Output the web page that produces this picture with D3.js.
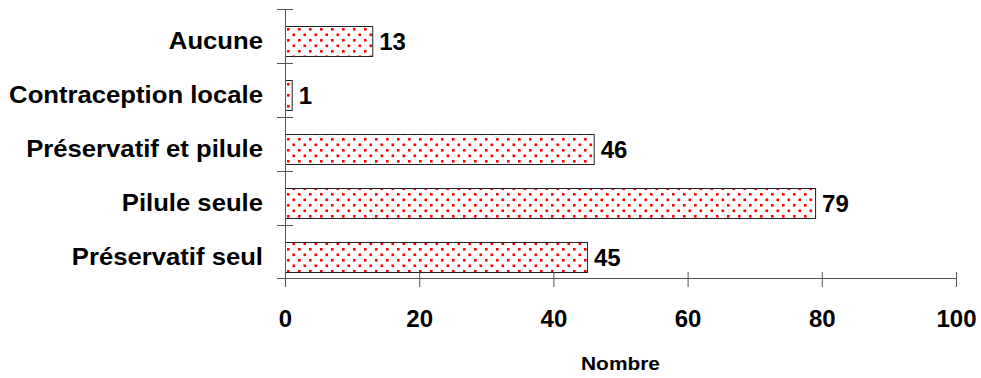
<!DOCTYPE html>
<html>
<head>
<meta charset="utf-8">
<script src="https://cdn.jsdelivr.net/npm/d3@7"></script>
<style>
  body { margin: 0; background: #fff; }
  text { font-family: Arial, "Liberation Sans", sans-serif; font-weight: bold; fill: #000; }
</style>
</head>
<body>
<div id="chart"></div>
<script>
var svgWidth = 981, svgHeight = 378;

// data
var categories = ["Aucune", "Contraception locale", "Préservatif et pilule", "Pilule seule", "Préservatif seul"];
var values = [13, 1, 46, 79, 45];
var xTicks = [0, 20, 40, 60, 80, 100];
var xTitle = "Nombre";

var plotLeft = 285, plotRight = 956, plotTop = 9, plotBottom = 279;
var stretch = 1.07; // text in the picture is a bit wider than plain Arial

var svg = d3.select("#chart")
  .append("svg")
  .attr("width", svgWidth)
  .attr("height", svgHeight);

// red dot pattern
var defs = svg.append("defs");
var pat = defs.append("pattern")
  .attr("id", "dots")
  .attr("patternUnits", "userSpaceOnUse")
  .attr("width", 11)
  .attr("height", 11)
  .attr("x", 287)
  .attr("y", 6);
pat.append("rect").attr("width", 11).attr("height", 11).attr("fill", "#fff");
pat.append("rect").attr("x", 0).attr("y", 0).attr("width", 2.6).attr("height", 2.6).attr("fill", "#f00");
pat.append("rect").attr("x", 5.5).attr("y", 5.5).attr("width", 2.6).attr("height", 2.6).attr("fill", "#f00");

var x = d3.scaleLinear().domain([0, 100]).range([plotLeft, plotRight]);
var y = d3.scaleBand()
  .domain(categories)
  .range([plotTop, plotBottom]);

// bars sit a little low in their band
var barOff = y.step() * 0.315, barH = y.step() * 0.555;

var data = categories.map(function(c, i) { return { cat: c, val: values[i] }; });

// bars
svg.append("g")
  .selectAll("rect")
  .data(data)
  .enter()
  .append("rect")
  .attr("x", x(0) + 0.5)
  .attr("y", d => Math.round(y(d.cat) + barOff) + 0.5)
  .attr("width", d => x(d.val) - x(0))
  .attr("height", Math.round(barH))
  .attr("fill", "url(#dots)")
  .attr("stroke", "#222")
  .attr("stroke-width", 1);

// value labels
svg.append("g")
  .selectAll("text")
  .data(data)
  .enter()
  .append("text")
  .attr("x", d => x(d.val) + 7)
  .attr("y", d => y(d.cat) + barOff + barH / 2)
  .attr("dy", "0.36em")
  .style("font-size", "24px")
  .text(d => d.val);

// category labels
svg.append("g")
  .attr("transform", "translate(263,0) scale(" + stretch + ",1)")
  .selectAll("text")
  .data(data)
  .enter()
  .append("text")
  .attr("x", 0)
  .attr("y", d => y(d.cat) + barOff + barH / 2 - 1)
  .attr("dy", "0.36em")
  .attr("text-anchor", "end")
  .style("font-size", "24px")
  .text(d => d.cat);

// x axis
var xAxis = svg.append("g")
  .attr("transform", "translate(0," + (plotBottom - 1) + ")")
  .call(d3.axisBottom(x).tickValues(xTicks).tickSize(9).tickPadding(0));
xAxis.select(".domain").attr("stroke", "#555").attr("d", "M" + plotLeft + ",0.5H" + plotRight);
xAxis.selectAll(".tick line").attr("stroke", "#555").attr("y1", -6).attr("y2", 9);
xAxis.selectAll(".tick text")
  .attr("y", 49)
  .attr("dy", null)
  .style("font-size", "24px")
  .style("font-family", "Arial, 'Liberation Sans', sans-serif")
  .style("font-weight", "bold")
  .attr("fill", "#000");

// y axis line and ticks between categories
var yAxis = svg.append("g");
yAxis.append("line")
  .attr("x1", plotLeft + 0.5).attr("x2", plotLeft + 0.5)
  .attr("y1", plotTop).attr("y2", plotBottom + 8)
  .attr("stroke", "#555");
var yTickPos = categories.map(c => y(c));
yTickPos.push(plotBottom - 1);
yAxis.selectAll(".ytick")
  .data(yTickPos)
  .enter()
  .append("line")
  .attr("class", "ytick")
  .attr("x1", plotLeft - 8).attr("x2", plotLeft + 8)
  .attr("y1", d => Math.round(d) + 0.5).attr("y2", d => Math.round(d) + 0.5)
  .attr("stroke", "#555");

// axis title
svg.append("text")
  .attr("transform", "translate(" + ((plotLeft + plotRight) / 2) + ",370) scale(1.1,1)")
  .attr("text-anchor", "middle")
  .style("font-size", "19px")
  .text(xTitle);
</script>
</body>
</html>
